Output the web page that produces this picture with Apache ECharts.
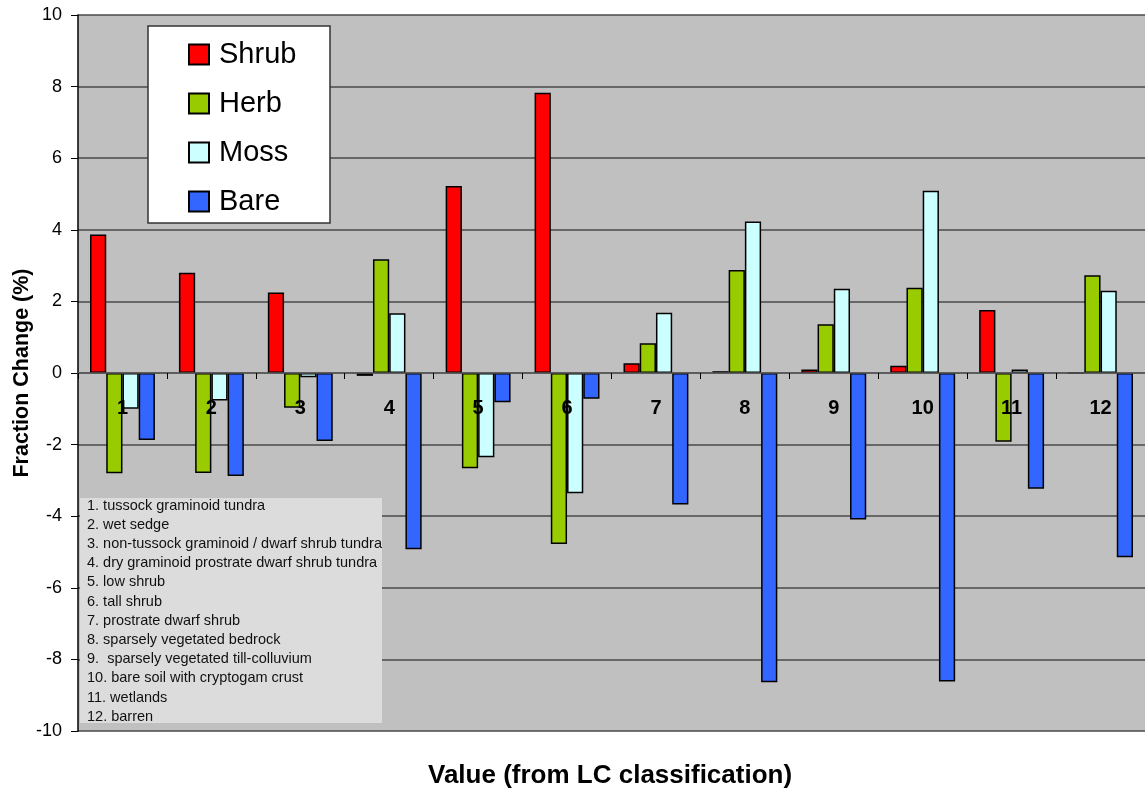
<!DOCTYPE html>
<html>
<head>
<meta charset="utf-8">
<script src="https://cdn.jsdelivr.net/npm/echarts@6/dist/echarts.min.js"></script>
<style>
  html, body { margin: 0; padding: 0; background: #ffffff; }
  #chart { width: 1145px; height: 788px; }
</style>
</head>
<body>
<div id="chart"></div>
<script>
// Land-cover classes (1..12) and the fraction change of each cover type (%)
const categories = ['1', '2', '3', '4', '5', '6', '7', '8', '9', '10', '11', '12'];
const shrub = [3.87, 2.80, 2.25, -0.08, 5.22, 7.83, 0.27, 0.05, 0.10, 0.20, 1.76, 0];
const herb  = [-2.80, -2.79, -0.97, 3.18, -2.66, -4.78, 0.83, 2.88, 1.36, 2.38, -1.92, 2.73];
const moss  = [-1.00, -0.77, -0.12, 1.67, -2.35, -3.36, 1.68, 4.23, 2.35, 5.09, 0.10, 2.30];
const bare  = [-1.87, -2.88, -1.90, -4.92, -0.82, -0.72, -3.67, -8.64, -4.09, -8.62, -3.23, -5.15];
const yTicks = [-10, -8, -6, -4, -2, 0, 2, 4, 6, 8, 10];

const classNames = [
  '1. tussock graminoid tundra',
  '2. wet sedge',
  '3. non-tussock graminoid / dwarf shrub tundra',
  '4. dry graminoid prostrate dwarf shrub tundra',
  '5. low shrub',
  '6. tall shrub',
  '7. prostrate dwarf shrub',
  '8. sparsely vegetated bedrock',
  '9.  sparsely vegetated till-colluvium',
  '10. bare soil with cryptogam crust',
  '11. wetlands',
  '12. barren'
];

const FONT = 'Liberation Sans, Arial, sans-serif';
const NARROW = 'Liberation Sans Narrow, Arial Narrow, Liberation Sans, sans-serif';

// plot area (px)
const GRID = { left: 78, right: 0, top: 15, bottom: 57 };
const CHART_H = 788;

function barSeries(name, data, color) {
  return {
    name: name,
    type: 'bar',
    data: data,
    barGap: '0%',
    barCategoryGap: '27%',
    itemStyle: { color: color, borderColor: '#000000', borderWidth: 1.5 }
  };
}

const chart = echarts.init(document.getElementById('chart'), null, { renderer: 'canvas' });

// class numbers sit just under the zero line, inside the plot
const plotBottom = CHART_H - GRID.bottom;
const plotH = plotBottom - GRID.top;
const zeroY = GRID.top + plotH * (yTicks[yTicks.length - 1] / (yTicks[yTicks.length - 1] - yTicks[0]));
const labelMargin = Math.round(zeroY + 25 - plotBottom);

chart.setOption({
  animation: false,
  backgroundColor: '#ffffff',
  grid: Object.assign({
    show: true, backgroundColor: '#c0c0c0', borderWidth: 0,
    containLabel: false, outerBoundsMode: 'none'
  }, GRID),
  legend: {
    orient: 'vertical',
    left: 188, top: 40,
    icon: 'rect',
    itemWidth: 20, itemHeight: 20, itemGap: 20,
    padding: 0,
    textStyle: { fontFamily: FONT, fontSize: 29, color: '#000000', padding: [0, 0, 0, 5] },
    data: ['Shrub', 'Herb', 'Moss', 'Bare'],
    z: 6
  },
  xAxis: {
    type: 'category',
    data: categories,
    axisLine: { onZero: true, lineStyle: { color: '#5a5a5a', width: 1.5 } },
    axisTick: { show: true, length: 6, inside: false, lineStyle: { color: '#000000', width: 1 } },
    axisLabel: {
      margin: labelMargin, fontFamily: NARROW, fontSize: 20, fontWeight: 'bold', color: '#000000'
    },
    splitLine: { show: false },
    z: 4
  },
  yAxis: {
    type: 'value',
    min: yTicks[0], max: yTicks[yTicks.length - 1], interval: 2,
    name: 'Fraction Change (%)',
    nameLocation: 'middle',
    nameGap: 45,
    nameMoveOverlap: false,
    nameTextStyle: { fontFamily: FONT, fontSize: 21.5, fontWeight: 'bold', color: '#000000' },
    axisLine: { show: true, lineStyle: { color: '#000000', width: 1.5 } },
    axisTick: { show: true, length: 7, lineStyle: { color: '#000000', width: 1 } },
    axisLabel: { margin: 16, fontFamily: FONT, fontSize: 18, color: '#000000' },
    splitLine: { show: true, lineStyle: { color: '#4a4a4a', width: 1.5 } }
  },
  series: [
    barSeries('Shrub', shrub, '#ff0000'),
    barSeries('Herb', herb, '#99cc00'),
    barSeries('Moss', moss, '#ccffff'),
    barSeries('Bare', bare, '#3366ff')
  ],
  graphic: [
    {
      // legend frame
      type: 'rect', z: 5,
      shape: { x: 148, y: 26, width: 182, height: 197 },
      style: { fill: '#ffffff', stroke: '#333333', lineWidth: 1.5 }
    },
    {
      // class key box
      type: 'rect', z: 5,
      shape: { x: 80, y: 498, width: 302, height: 225 },
      style: { fill: '#dcdcdc', stroke: null }
    },
    {
      type: 'text', z: 6,
      left: 87, top: 496,
      style: {
        text: classNames.join('\n'),
        fontFamily: FONT, fontSize: 14.5, lineHeight: 19.2, fill: '#111111'
      }
    },
    {
      // x axis title
      type: 'text', z: 6,
      left: 428, top: 763,
      style: {
        text: 'Value (from LC classification)',
        fontFamily: FONT, fontSize: 26, fontWeight: 'bold', fill: '#000000'
      }
    }
  ]
});
</script>
</body>
</html>
